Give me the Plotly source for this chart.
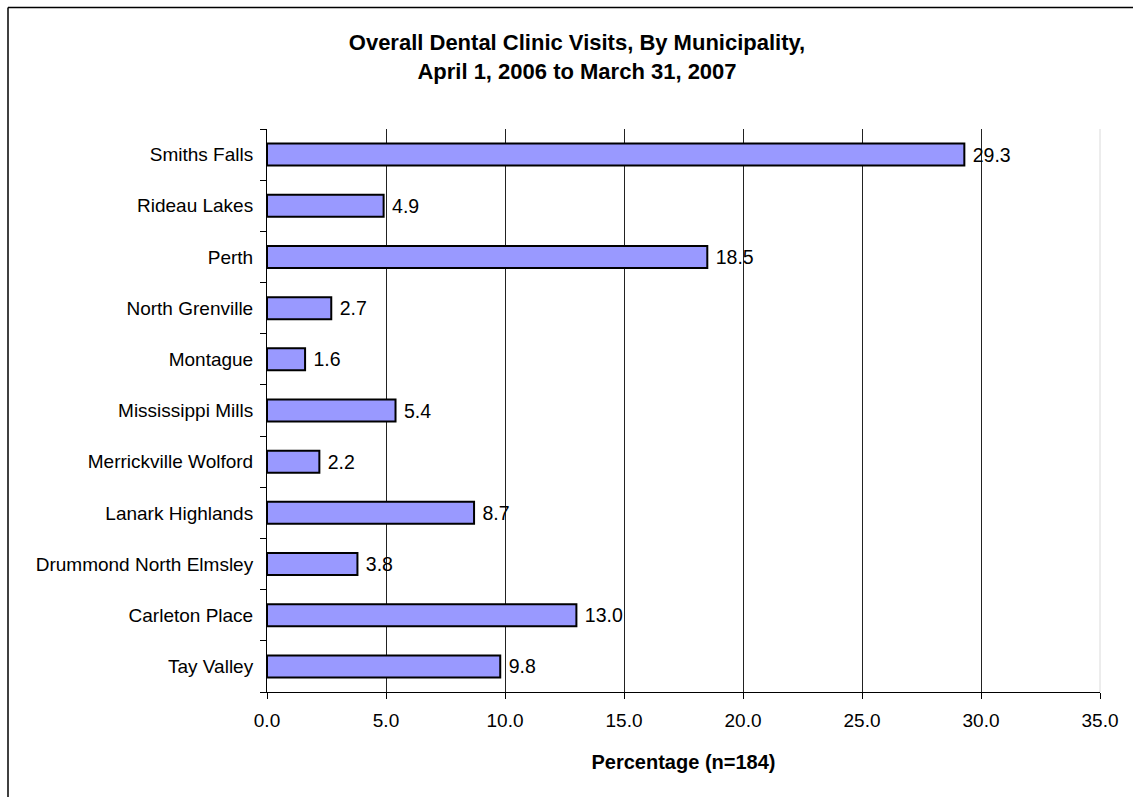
import plotly.graph_objects as go

categories = ["Tay Valley", "Carleton Place", "Drummond North Elmsley", "Lanark Highlands",
              "Merrickville Wolford", "Mississippi Mills", "Montague", "North Grenville",
              "Perth", "Rideau Lakes", "Smiths Falls"]
values = [9.8, 13.0, 3.8, 8.7, 2.2, 5.4, 1.6, 2.7, 18.5, 4.9, 29.3]
x_ticks = [0, 5, 10, 15, 20, 25, 30, 35]
x_tick_labels = ["0.0", "5.0", "10.0", "15.0", "20.0", "25.0", "30.0", "35.0"]

FONT = "Liberation Sans, Arial, sans-serif"

fig = go.Figure(go.Bar(
    y=categories, x=values, orientation="h",
    marker=dict(color="#9999FF", line=dict(color="#000000", width=2)),
    width=0.43,
    texttemplate=" %{x:.1f}", textposition="outside",
    textfont=dict(family=FONT, size=19.5, color="#000000"),
    cliponaxis=False,
))

L, R, T, B = 267, 33, 129, 105
W, H = 1133, 797
pw, ph = W - L - R, H - T - B

fig.update_layout(
    width=W, height=H,
    margin=dict(l=L, r=R, t=T, b=B),
    paper_bgcolor="white", plot_bgcolor="white",
    showlegend=False,
    font=dict(family=FONT, size=19, color="#000000"),
    title=dict(
        text="Overall Dental Clinic Visits, By Municipality,<br>April 1, 2006 to March 31, 2007",
        x=577 / W, xanchor="center", y=1 - 50 / H, yanchor="top",
        font=dict(family=FONT, size=22, color="#000000", weight="bold"),
    ),
    xaxis=dict(
        range=[0, 35], tickvals=x_ticks, ticktext=x_tick_labels,
        showgrid=True, gridcolor="#222222", gridwidth=1,
        zeroline=False, showline=True, linecolor="#000000", linewidth=1,
        ticks="outside", ticklen=6, tickcolor="#000000",
        tickfont=dict(family=FONT, size=19, color="#000000"),
        ticklabelstandoff=5,
        title=dict(text="Percentage (n=184)", standoff=25,
                   font=dict(family=FONT, size=20, color="#000000", weight="bold")),
    ),
    yaxis=dict(
        categoryorder="array", categoryarray=categories,
        showline=True, linecolor="#000000", linewidth=1,
        ticks="outside", ticklen=6, tickcolor="#000000", tickson="boundaries",
        showgrid=False, zeroline=False,
        tickfont=dict(family=FONT, size=19, color="#000000"),
        ticklabelstandoff=9,
    ),
)

# faint right edge of plot area
fig.add_shape(type="line", xref="paper", yref="paper", x0=1, x1=1, y0=0, y1=1,
              line=dict(color="#DADADA", width=1))

# outer chart frame (cropped: top and left edges visible)
fig.add_shape(type="line", xref="paper", yref="paper",
              x0=(8 - L) / pw, x1=(W + 5 - L) / pw,
              y0=(H - B - 7.5) / ph, y1=(H - B - 7.5) / ph,
              line=dict(color="#000000", width=1.5))
fig.add_shape(type="line", xref="paper", yref="paper",
              x0=(8 - L) / pw, x1=(8 - L) / pw,
              y0=(H - B - 7.5) / ph, y1=-(B + 5) / ph,
              line=dict(color="#000000", width=1.5))

fig.write_html("out.html", config={"displayModeBar": False},
               post_script="document.body.style.margin='0px';")
